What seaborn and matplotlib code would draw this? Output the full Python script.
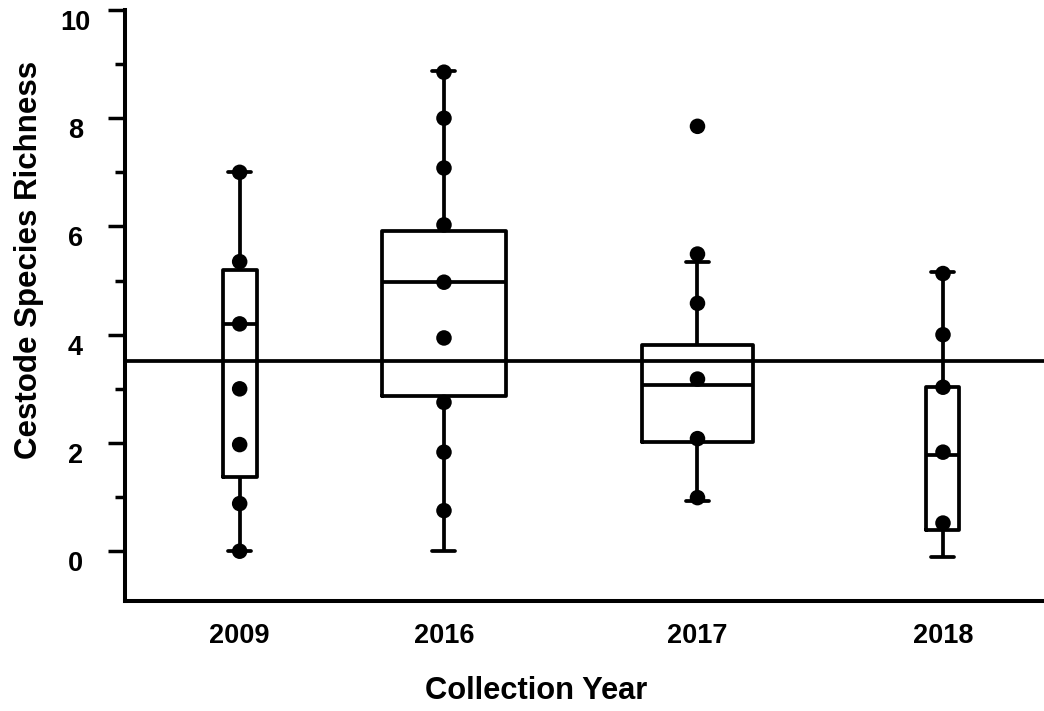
import numpy as np
import pandas as pd
import matplotlib
matplotlib.use("Agg")
import matplotlib.pyplot as plt
import matplotlib.transforms as mtransforms
from matplotlib.ticker import FixedLocator
import seaborn as sns

# ---------------- data ----------------
years = ["2009", "2016", "2017", "2018"]

pts_2009 = [7.0, 5.35, 4.2, 3.0, 1.97, 0.88, 0.0]
pts_2016 = [8.85, 8.0, 7.08, 6.03, 4.97, 3.94, 2.75, 1.83, 0.75]
pts_2017 = [7.85, 5.49, 4.58, 3.18, 2.08, 0.99]
pts_2018 = [5.13, 4.0, 3.03, 1.83, 0.52]

# five-number summaries drawn as boxes
whisker_low = [0.0, 0.0, 0.92, -0.1]
q1 = [1.38, 2.87, 2.02, 0.39]
median = [4.2, 4.98, 3.07, 1.78]
q3 = [5.19, 5.91, 3.81, 3.03]
whisker_high = [7.0, 8.87, 5.35, 5.16]

overall_mean = 3.52

y_major = [0, 2, 4, 6, 8, 10]
y_minor = [1, 3, 5, 7, 9]

# ---------------- layout / style ----------------
x_pos = [1.147, 3.19, 5.725, 8.18]
box_w = [0.34, 1.24, 1.11, 0.33]
cap_w = 0.23

sns.set_style("ticks")
plt.rcParams["font.family"] = ["Liberation Sans", "DejaVu Sans"]
plt.rcParams["font.weight"] = "bold"
for key in ["text.color", "axes.labelcolor", "xtick.color", "ytick.color",
            "xtick.labelcolor", "ytick.labelcolor", "axes.edgecolor"]:
    plt.rcParams[key] = "black"

fig = plt.figure(figsize=(10.44, 7.11), dpi=100)
ax = fig.add_axes([0.1197, 0.1547, 0.8803, 0.8313])

all_pts = [pts_2009, pts_2016, pts_2017, pts_2018]
lw = 2.7

for i, yr in enumerate(years):
    summary = pd.DataFrame({
        "x": [x_pos[i]] * 5,
        "y": [whisker_low[i], q1[i], median[i], q3[i], whisker_high[i]],
    })
    sns.boxplot(data=summary, x="x", y="y", native_scale=True, whis=(0, 100),
                width=box_w[i], fill=False, color="black", linecolor="black",
                linewidth=lw, showfliers=False, capwidths=cap_w, ax=ax)

pts_df = pd.DataFrame({
    "x": np.concatenate([[x_pos[i]] * len(p) for i, p in enumerate(all_pts)]),
    "y": np.concatenate(all_pts),
})
sns.scatterplot(data=pts_df, x="x", y="y", color="black", s=125,
                edgecolor="none", linewidth=0, legend=False, ax=ax, zorder=4)

ax.axhline(overall_mean, color="black", lw=lw, zorder=3)

ax.set_xlim(0, 9.19)
ax.set_ylim(-0.92, 10.0)

for s in ["top", "right"]:
    ax.spines[s].set_visible(False)
for s in ["left", "bottom"]:
    ax.spines[s].set_linewidth(2.9)
    ax.spines[s].set_color("black")

ax.set_xticks(x_pos)
ax.set_xticklabels(years)
ax.tick_params(axis="x", length=0, pad=15.5, labelsize=19.5)

ax.yaxis.set_major_locator(FixedLocator(y_major))
ax.yaxis.set_minor_locator(FixedLocator(y_minor))
ax.set_yticklabels([str(v) for v in y_major])
ax.tick_params(axis="y", which="major", length=12.2, width=2.5, pad=23.5,
               labelsize=19.5, color="black")
ax.tick_params(axis="y", which="minor", length=7.2, width=2.5, color="black")

off = mtransforms.ScaledTranslation(0, -0.1, fig.dpi_scale_trans)
for lab in ax.get_yticklabels():
    lab.set_horizontalalignment("center")
    lab.set_transform(lab.get_transform() + off)
    lab.set_fontweight("bold")
    lab.set_color("black")
for lab in ax.get_xticklabels():
    lab.set_fontweight("bold")
    lab.set_color("black")

ax.set_xlabel("Collection Year", fontsize=22.2, fontweight="bold", color="black")
ax.set_ylabel("Cestode Species Richness", fontsize=22.5, fontweight="bold",
              color="black")
ax.xaxis.set_label_coords(0.447, -0.127)
ax.yaxis.set_label_coords(-0.0886, 0.577)

fig.savefig("out.png", dpi=100)
